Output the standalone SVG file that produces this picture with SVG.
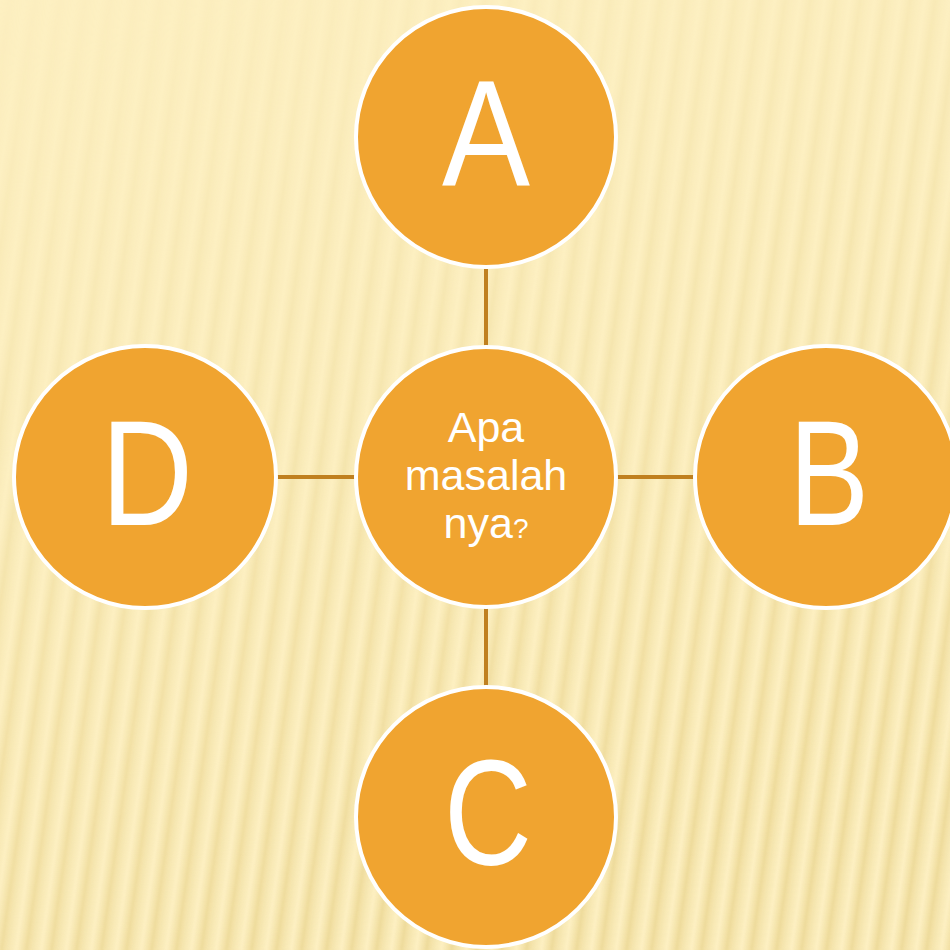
<svg xmlns="http://www.w3.org/2000/svg" width="950" height="950" viewBox="0 0 950 950">
<defs>
<linearGradient id="stripeGrad" x1="0" y1="0" x2="1" y2="0">
<stop offset="0" stop-color="#E8D28A" stop-opacity="0"/>
<stop offset="0.4" stop-color="#E6CF85" stop-opacity="0.7"/>
<stop offset="0.6" stop-color="#E6CF85" stop-opacity="0.4"/>
<stop offset="1" stop-color="#E8D28A" stop-opacity="0"/>
</linearGradient>
<pattern id="stripes" width="25" height="950" patternUnits="userSpaceOnUse" patternTransform="skewX(-8)">
<rect x="0" y="0" width="25" height="950" fill="url(#stripeGrad)"/>
</pattern>
<linearGradient id="fadeV" x1="0" y1="0" x2="0.3" y2="1">
<stop offset="0" stop-color="#fff" stop-opacity="0.05"/>
<stop offset="0.5" stop-color="#fff" stop-opacity="0.45"/>
<stop offset="1" stop-color="#fff" stop-opacity="0.9"/>
</linearGradient>
<mask id="fadeMask">
<rect width="950" height="950" fill="url(#fadeV)"/>
</mask>
<style>
.node{fill:#F0A430;stroke:#FFFFFF;stroke-width:4}
.big{font-family:"Liberation Sans",Arial,sans-serif;font-size:150px;fill:#FFFFFF;text-anchor:middle}
.mid{font-family:"Liberation Sans",Arial,sans-serif;font-size:43px;fill:#FFFFFF;text-anchor:middle}
.conn{stroke:#C0801F;stroke-width:4;fill:none}
</style>
</defs>
<rect width="950" height="950" fill="#FDF0C2"/>
<rect width="950" height="950" fill="url(#stripes)" mask="url(#fadeMask)"/>
<g id="connectors">
<line class="conn" x1="486" y1="269" x2="486" y2="346"/>
<line class="conn" x1="486" y1="608" x2="486" y2="686"/>
<line class="conn" x1="277" y1="477" x2="355" y2="477"/>
<line class="conn" x1="617" y1="477" x2="694" y2="477"/>
</g>
<g id="node-center">
<circle class="node" cx="486" cy="477" r="130"/>
<text class="mid" x="486" y="442">Apa</text>
<text class="mid" x="486" y="490">masalah</text>
<text class="mid" x="486" y="538">nya<tspan font-size="28px">?</tspan></text>
</g>
<g id="node-A">
<circle class="node" cx="486" cy="137" r="130"/>
<text class="big" x="486" y="185" textLength="88" lengthAdjust="spacingAndGlyphs">A</text>
</g>
<g id="node-B">
<circle class="node" cx="826" cy="477" r="131"/>
<text class="big" x="829" y="525" textLength="80" lengthAdjust="spacingAndGlyphs">B</text>
</g>
<g id="node-C">
<circle class="node" cx="486" cy="817" r="130"/>
<text class="big" x="488" y="865" textLength="88" lengthAdjust="spacingAndGlyphs">C</text>
</g>
<g id="node-D">
<circle class="node" cx="145" cy="477" r="131"/>
<text class="big" x="147" y="525" textLength="92" lengthAdjust="spacingAndGlyphs">D</text>
</g>
</svg>
